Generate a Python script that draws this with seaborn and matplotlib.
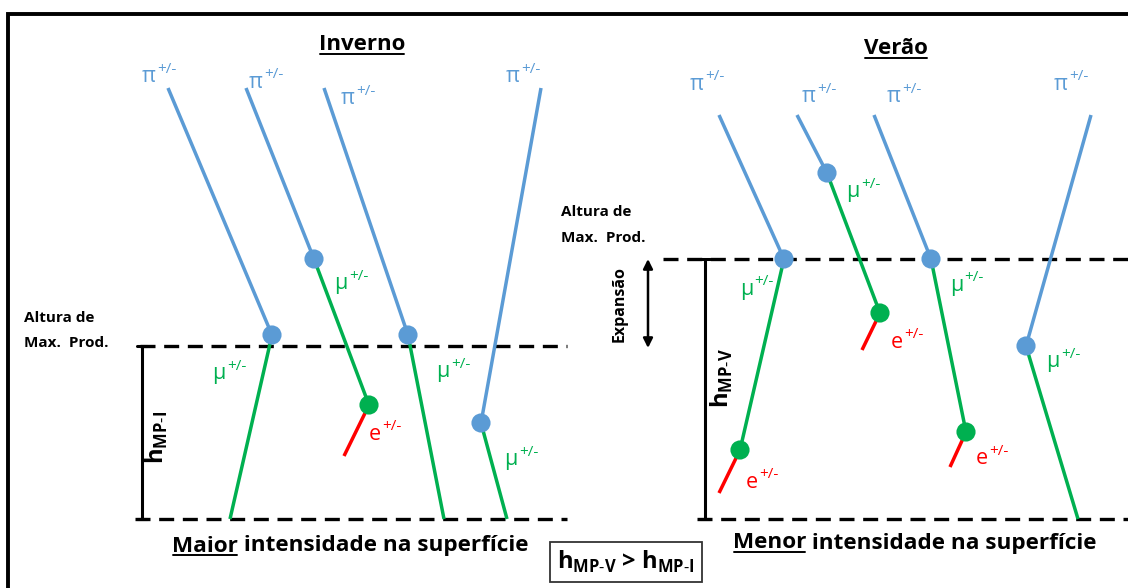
import numpy as np
import pandas as pd
import seaborn as sns
import matplotlib.pyplot as plt

# pixel-space layout of the diagram (y grows downward)
# Inverno (winter) tracks
pi_top_x_I = [168, 246, 324, 541]
pi_top_y_I = [88, 88, 88, 88]
decay_x_I = [272, 314, 408, 481]
decay_y_I = [335, 259, 335, 423]
mu_end_x_I = [230, 369, 444, 507]
mu_end_y_I = [519, 405, 519, 519]
e_start_I = [(369, 405)]
e_end_I = [(344, 456)]

# Verão (summer) tracks
pi_top_x_V = [719, 797, 874, 1091]
pi_top_y_V = [115, 115, 115, 115]
decay_x_V = [784, 827, 931, 1026]
decay_y_V = [259, 173, 259, 346]
mu_end_x_V = [740, 880, 966, 1078]
mu_end_y_V = [450, 313, 432, 519]
e_start_V = [(740, 450), (880, 313), (966, 432)]
e_end_V = [(719, 493), (862, 350), (950, 467)]

# heights
hmax_I, hsurf_I = 346, 519
hmax_V, hsurf_V = 259, 519

# label anchor positions
pi_lbl_I = [(158, 75), (265, 80), (357, 97), (522, 75)]
mu_lbl_I = [(228, 372), (350, 282), (452, 370), (520, 458)]
e_lbl_I = [(383, 432)]
pi_lbl_V = [(706, 82), (818, 95), (903, 95), (1070, 82)]
mu_lbl_V = [(755, 287), (862, 190), (965, 283), (1062, 360)]
e_lbl_V = [(760, 480), (905, 340), (990, 457)]

BLUE = '#5B9BD5'
GREEN = '#00B050'
RED = '#FF0000'

sns.set_theme(style='white')
plt.rcParams['font.family'] = ['Open Sans', 'DejaVu Sans']
plt.rcParams['mathtext.fontset'] = 'custom'
plt.rcParams['mathtext.rm'] = 'Open Sans'
plt.rcParams['mathtext.bf'] = 'Open Sans:bold'

# build segment table
rows = []
sid = 0
def add(x0, y0, x1, y1, kind):
    global sid
    rows.append(dict(x=x0, y=y0, seg=sid, kind=kind))
    rows.append(dict(x=x1, y=y1, seg=sid, kind=kind))
    sid += 1

for px, py, dx, dy, mx, my in zip(pi_top_x_I + pi_top_x_V, pi_top_y_I + pi_top_y_V,
                                  decay_x_I + decay_x_V, decay_y_I + decay_y_V,
                                  mu_end_x_I + mu_end_x_V, mu_end_y_I + mu_end_y_V):
    add(px, py, dx, dy, 'pi')
    add(dx, dy, mx, my, 'mu')
for (sx, sy), (ex, ey) in zip(e_start_I + e_start_V, e_end_I + e_end_V):
    add(sx, sy, ex, ey, 'e')
segs = pd.DataFrame(rows)

fig = plt.figure(figsize=(11.28, 5.88), dpi=100)
ax = fig.add_axes([0, 0, 1, 1])

# frame
ax.plot([8, 8, 1130], [600, 14, 14], color='black', lw=2.8, solid_joinstyle='miter')

# dashed levels
dash = dict(color='black', lw=2.4, dashes=(4.5, 2.6))
ax.plot([140, 567], [hmax_I, hmax_I], **dash)
ax.plot([135, 567], [hsurf_I, hsurf_I], **dash)
ax.plot([663, 1130], [hmax_V, hmax_V], **dash)
ax.plot([697, 1130], [hsurf_V, hsurf_V], **dash)

# height bars
for x, y0, y1 in [(142, hmax_I, hsurf_I), (705, hmax_V, hsurf_V)]:
    ax.plot([x, x], [y0, y1], color='black', lw=2.2)
    ax.plot([x - 5, x + 5], [y0, y0], color='black', lw=2.2)
    ax.plot([x - 5, x + 5], [y1, y1], color='black', lw=2.2)

# tracks
sns.lineplot(data=segs, x='x', y='y', units='seg', hue='kind', estimator=None,
             sort=False, palette={'pi': BLUE, 'mu': GREEN, 'e': RED},
             linewidth=2.5, legend=False, ax=ax)
for line in ax.lines[-sid:]:
    line.set_solid_capstyle('butt')

dots = pd.DataFrame({
    'x': decay_x_I + decay_x_V + [s[0] for s in e_start_I + e_start_V],
    'y': decay_y_I + decay_y_V + [s[1] for s in e_start_I + e_start_V],
    'kind': ['pi'] * 8 + ['mu'] * 4,
})
sns.scatterplot(data=dots, x='x', y='y', hue='kind', palette={'pi': BLUE, 'mu': GREEN},
                s=190, linewidth=0, legend=False, ax=ax, zorder=5)
ax.set_xlim(0, 1128)
ax.set_ylim(588, 0)
ax.axis('off')


def particle(x, y, base, color):
    ax.text(x - 2, y + 2, base, color=color, fontsize=15.5, ha='right', va='center')
    ax.annotate('+/-', xy=(x - 2, y + 2), xytext=(0.5, 0), textcoords='offset points',
                color=color, fontsize=11, ha='left', va='bottom')


for (x, y) in pi_lbl_I + pi_lbl_V:
    particle(x, y, 'π', BLUE)
for (x, y) in mu_lbl_I + mu_lbl_V:
    particle(x, y, 'μ', GREEN)
for (x, y) in e_lbl_I + e_lbl_V:
    particle(x, y, 'e', RED)

# text annotations
bold = dict(fontweight='bold', color='black')
ax.text(24, 318, 'Altura de', fontsize=11, ha='left', va='center', **bold)
ax.text(24, 343, 'Max.  Prod.', fontsize=11, ha='left', va='center', **bold)
ax.text(561, 212, 'Altura de', fontsize=11, ha='left', va='center', **bold)
ax.text(561, 238, 'Max.  Prod.', fontsize=11, ha='left', va='center', **bold)

ax.text(157, 437, r'h$_{\mathbf{MP\text{-}I}}$', fontsize=17, rotation=90,
        ha='center', va='center', **bold)
ax.text(722, 378, r'h$_{\mathbf{MP\text{-}V}}$', fontsize=17, rotation=90,
        ha='center', va='center', **bold)
ax.text(620, 304, 'Expansão', fontsize=11.5, rotation=90, ha='center', va='center', **bold)
ax.annotate('', xy=(648, 259), xytext=(648, 348),
            arrowprops=dict(arrowstyle='<|-|>', color='black', lw=1.8,
                            mutation_scale=14, shrinkA=0, shrinkB=0))

ax.text(626, 562, r'h$_{\mathbf{MP\text{-}V}}$ > h$_{\mathbf{MP\text{-}I}}$', fontsize=17,
        ha='center', va='center', **bold,
        bbox=dict(boxstyle='square,pad=0.3', fc='white', ec='#333333', lw=1.3))

fig.canvas.draw()
renderer = fig.canvas.get_renderer()
inv = ax.transData.inverted()


def underline(t, pad=4):
    bb = t.get_window_extent(renderer)
    (x0, y0), (x1, y1) = inv.transform([[bb.x0, bb.y0], [bb.x1, bb.y1]])
    ax.plot([x0 + 1, x1 - 1], [y0 + pad, y0 + pad], color='black', lw=1.4)


t = ax.text(362, 44, 'Inverno', fontsize=16, ha='center', va='center', **bold)
underline(t, -1)
t = ax.text(896, 48, 'Verão', fontsize=16, ha='center', va='center', **bold)
underline(t, -1)


def split_label(x, y, first, rest):
    t1 = ax.text(x, y, first, fontsize=16.2, ha='left', va='center', **bold)
    underline(t1, -2)
    bb = t1.get_window_extent(renderer)
    xe = inv.transform([[bb.x1, bb.y0]])[0][0]
    ax.text(xe, y, rest, fontsize=16.2, ha='left', va='center', **bold)


split_label(172, 546, 'Maior', ' intensidade na superfície')
split_label(733, 543, 'Menor', ' intensidade na superfície')

fig.savefig('out.png', dpi=100, facecolor='white')
